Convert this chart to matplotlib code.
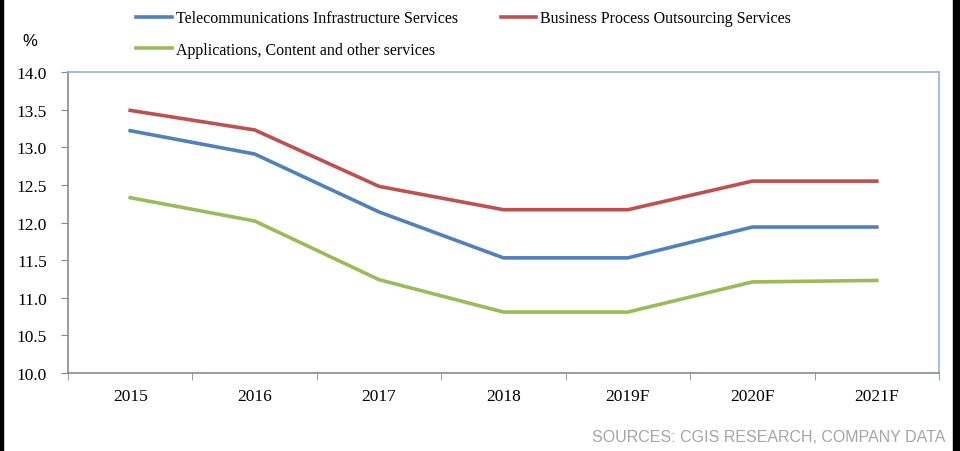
import matplotlib.pyplot as plt
from matplotlib.patches import Rectangle

years = ["2015", "2016", "2017", "2018", "2019F", "2020F", "2021F"]
telecom = [13.22, 12.91, 12.14, 11.53, 11.53, 11.94, 11.94]
bpo = [13.49, 13.23, 12.48, 12.17, 12.17, 12.55, 12.55]
apps = [12.33, 12.02, 11.24, 10.81, 10.81, 11.21, 11.23]

plt.rcParams['font.family'] = ['Liberation Serif', 'DejaVu Serif']

fig = plt.figure(figsize=(9.6, 4.52), dpi=100)
# black strips at the left and right edges of the screenshot
fig.patches.append(Rectangle((0, 0), 3 / 960, 1, transform=fig.transFigure, color='black'))
fig.patches.append(Rectangle((953 / 960, 0), 7 / 960, 1, transform=fig.transFigure, color='black'))

ax = fig.add_axes([68 / 960, 1 - 374 / 452, (939 - 68) / 960, (374 - 73) / 452])

x = range(len(years))
l1, = ax.plot(x, telecom, color='#4F81BD', lw=2.6, label="Telecommunications Infrastructure Services")
l2, = ax.plot(x, bpo, color='#C0504D', lw=2.6, label="Business Process Outsourcing Services")
l3, = ax.plot(x, apps, color='#9BBB59', lw=2.6, label="Applications, Content and other services")

ax.set_xlim(-0.5, len(years) - 0.5)
ax.set_ylim(10, 14)
ax.set_yticks([10 + 0.5 * i for i in range(9)])
ax.set_yticklabels([f"{10 + 0.5 * i:.1f}" for i in range(9)], fontsize=12.5)
ax.set_xticks(list(x))
ax.set_xticklabels(years, fontsize=12.5)
ax.set_xticks([i - 0.5 for i in range(len(years) + 1)], minor=True)
ax.tick_params(axis='x', which='major', length=0, pad=11)
ax.tick_params(axis='x', which='minor', length=5, color='#868A94', direction='out')
ax.tick_params(axis='y', length=5, color='#868A94', direction='out', pad=10)

for s in ['left', 'bottom']:
    ax.spines[s].set_color('#868A94')
    ax.spines[s].set_linewidth(1.2)
for s in ['top', 'right']:
    ax.spines[s].set_color('#95B3D7')
    ax.spines[s].set_linewidth(1.2)

fig.legend(handles=[l1, l3, l2], loc='upper left', bbox_to_anchor=(122 / 960, 1 + 3 / 452),
           ncol=2, frameon=False, fontsize=11.5, handlelength=2.2, handletextpad=0.25,
           columnspacing=2.7, labelspacing=0.95)

fig.text(30 / 960, 1 - 42 / 452, "%", fontsize=12, ha='center', va='center',
         family=['Liberation Sans', 'DejaVu Sans'])
fig.text(945 / 960, 1 - 438 / 452, "SOURCES: CGIS RESEARCH, COMPANY DATA", fontsize=11.5,
         ha='right', va='center', color='#A6A6A6', family=['Liberation Sans', 'DejaVu Sans'])

fig.savefig("out.png", dpi=100)
